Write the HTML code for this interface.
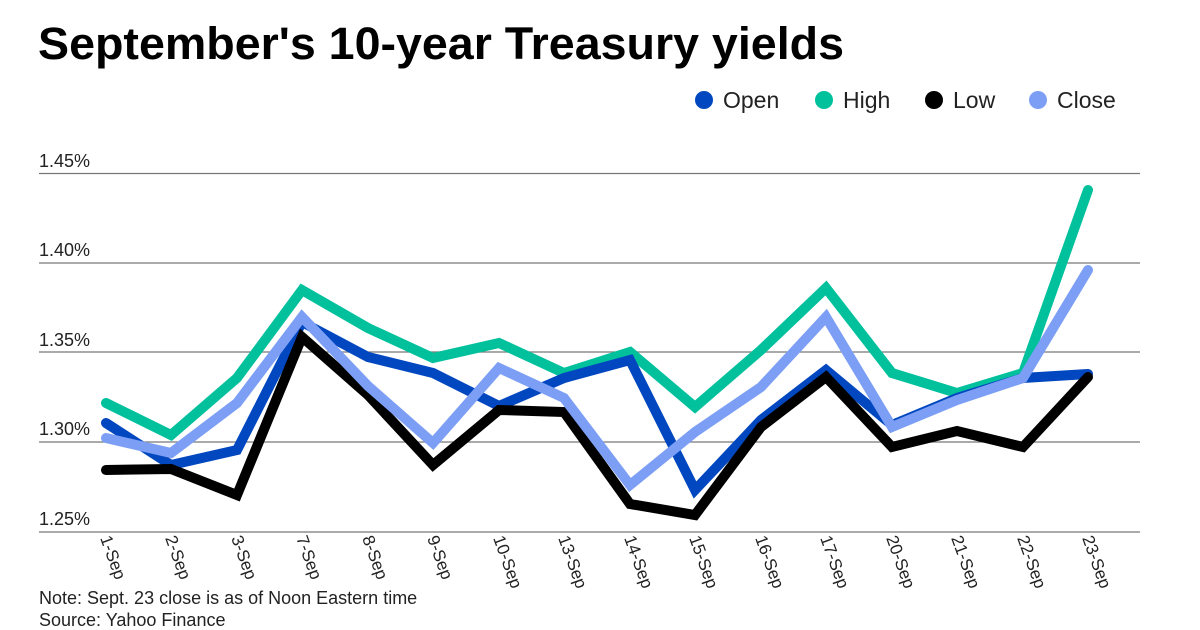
<!DOCTYPE html><html><head><style>body{margin:0;background:#fff}svg{display:block}text{font-family:"Liberation Sans",sans-serif}</style></head><body>
<svg width="1200" height="630" viewBox="0 0 1200 630">
<text x="38" y="59" font-size="45" font-weight="bold" fill="#000" textLength="806" lengthAdjust="spacingAndGlyphs">September's 10-year Treasury yields</text>
<g font-size="23" fill="#222">
<circle cx="704" cy="100" r="9" fill="#0047c0"/><text x="723" y="108">Open</text>
<circle cx="824" cy="100" r="9" fill="#00c19c"/><text x="843" y="108">High</text>
<circle cx="934" cy="100" r="9" fill="#000"/><text x="953" y="108">Low</text>
<circle cx="1038" cy="100" r="9" fill="#7c9ff5"/><text x="1057" y="108">Close</text>
</g>
<g stroke="#777" stroke-width="1.3">
<line x1="39" x2="1140" y1="173.5" y2="173.5"/><line x1="39" x2="1140" y1="263" y2="263"/><line x1="39" x2="1140" y1="352" y2="352"/><line x1="39" x2="1140" y1="442" y2="442"/><line x1="39" x2="1140" y1="532" y2="532"/>
</g>
<g font-size="18" fill="#222">
<text x="39" y="167">1.45%</text><text x="39" y="256">1.40%</text><text x="39" y="346">1.35%</text><text x="39" y="435">1.30%</text><text x="39" y="525">1.25%</text>
</g>
<g fill="none" stroke-width="10" stroke-linejoin="miter" stroke-linecap="round">
<polyline stroke="#00c19c" points="106,403 171,435 237,378 302,290 368,328 433,358 499,343 564,373 630,352 695,407 761,350 826,288 892,373 957,393 1023,373 1088,190"/>
<polyline stroke="#0047c0" points="106,423 171,465 237,450 302,322 368,357 433,373 499,406 564,378 630,360 695,490 761,420 826,370 892,425 957,398 1023,378 1088,374"/>
<polyline stroke="#000" points="106,470 171,469 237,495 302,337 368,395 433,465 499,410 564,412 630,504 695,515 761,427 826,377 892,447 957,431 1023,447 1088,377"/>
<polyline stroke="#7c9ff5" points="106,438 171,453 237,403 302,317 368,386 433,443 499,368 564,398 630,485 695,432 761,387 826,317 892,427 957,400 1023,378 1088,270"/>
</g>
<g font-size="17" fill="#222">
<text transform="translate(100,538) rotate(70)">1-Sep</text>
<text transform="translate(165,538) rotate(70)">2-Sep</text>
<text transform="translate(231,538) rotate(70)">3-Sep</text>
<text transform="translate(296,538) rotate(70)">7-Sep</text>
<text transform="translate(362,538) rotate(70)">8-Sep</text>
<text transform="translate(427,538) rotate(70)">9-Sep</text>
<text transform="translate(493,538) rotate(70)">10-Sep</text>
<text transform="translate(558,538) rotate(70)">13-Sep</text>
<text transform="translate(624,538) rotate(70)">14-Sep</text>
<text transform="translate(689,538) rotate(70)">15-Sep</text>
<text transform="translate(755,538) rotate(70)">16-Sep</text>
<text transform="translate(820,538) rotate(70)">17-Sep</text>
<text transform="translate(886,538) rotate(70)">20-Sep</text>
<text transform="translate(951,538) rotate(70)">21-Sep</text>
<text transform="translate(1017,538) rotate(70)">22-Sep</text>
<text transform="translate(1082,538) rotate(70)">23-Sep</text>
</g>
<g font-size="18" fill="#222">
<text x="39" y="604">Note: Sept. 23 close is as of Noon Eastern time</text>
<text x="39" y="626">Source: Yahoo Finance</text>
</g>
</svg></body></html>
